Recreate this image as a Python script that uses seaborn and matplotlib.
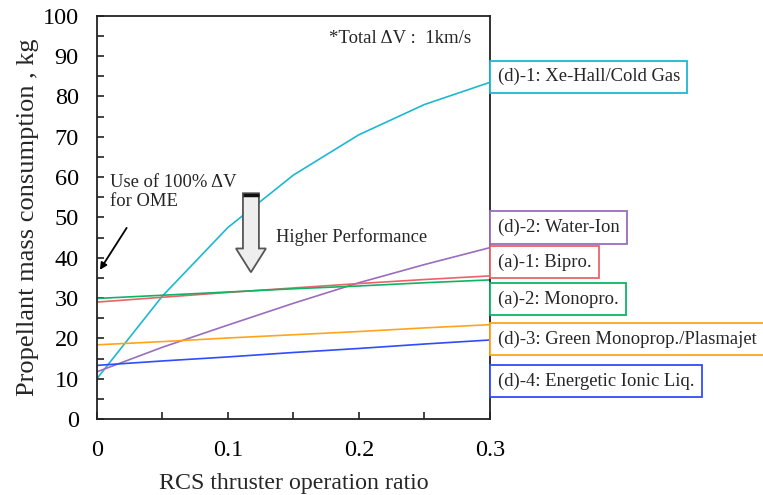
import numpy as np
import pandas as pd
import matplotlib
matplotlib.use("Agg")
import matplotlib.pyplot as plt
from matplotlib.patches import FancyArrow
from matplotlib.ticker import MultipleLocator
import seaborn as sns

# ---- data ----
ratio = [0.0, 0.05, 0.10, 0.15, 0.20, 0.25, 0.30]
xe_hall = [10.0, 30.5, 47.5, 60.5, 70.5, 78.0, 83.5]
water_ion = [11.7, 17.8, 23.3, 28.7, 33.8, 38.3, 42.5]
bipro = [29.0, 30.2, 31.4, 32.5, 33.6, 34.6, 35.5]
monopro = [29.9, 30.7, 31.5, 32.3, 33.0, 33.8, 34.5]
green_mono = [18.4, 19.2, 20.1, 20.9, 21.7, 22.6, 23.4]
ionic_liq = [13.3, 14.4, 15.4, 16.5, 17.5, 18.6, 19.6]

labels = ["(d)-1: Xe-Hall/Cold Gas", "(d)-2: Water-Ion", "(a)-1: Bipro.",
          "(a)-2: Monopro.", "(d)-3: Green Monoprop./Plasmajet",
          "(d)-4: Energetic Ionic Liq."]
series = [xe_hall, water_ion, bipro, monopro, green_mono, ionic_liq]
colors = ["#1cb8d2", "#9a6dbf", "#e8646a", "#10b364", "#ffa41c", "#2f4cff"]
label_y = [84.9, 47.5, 38.9, 29.8, 19.8, 9.4]

xticks = [0, 0.1, 0.2, 0.3]
xtick_labels = ["0", "0.1", "0.2", "0.3"]
yticks = list(range(0, 101, 10))

df = pd.DataFrame({
    "ratio": ratio * len(series),
    "mass": sum(series, []),
    "series": sum([[l] * len(ratio) for l in labels], []),
})

sns.set_theme(style="white")
plt.rcParams["font.family"] = ["Liberation Serif", "DejaVu Serif"]

fig = plt.figure(figsize=(7.63, 4.95), dpi=100)
ax = fig.add_axes([0.127, 0.1535, 0.515, 0.8145])

sns.lineplot(data=df, x="ratio", y="mass", hue="series", hue_order=labels,
             palette=colors, linewidth=1.2, legend=False, ax=ax)

ax.set_xlim(0, 0.3)
ax.set_ylim(0, 100)
ax.set_xticks(xticks)
ax.set_xticklabels(xtick_labels)
ax.set_yticks(yticks)
ax.xaxis.set_minor_locator(MultipleLocator(0.05))
ax.yaxis.set_minor_locator(MultipleLocator(5))
ax.tick_params(axis="both", which="both", direction="in", length=5, width=1.2,
               colors="#222222", labelsize=17.5, top=False, right=False,
               left=True, bottom=True)
ax.tick_params(axis="x", which="major", pad=15)
ax.tick_params(axis="y", which="major", pad=13)
for lab in ax.get_xticklabels() + ax.get_yticklabels():
    lab.set_color("black")
for sp in ax.spines.values():
    sp.set_color("#222222")
    sp.set_linewidth(1.3)

ax.set_xlabel("RCS thruster operation ratio", fontsize=17.2, labelpad=9)
ax.set_ylabel("Propellant mass consumption , kg", fontsize=19, labelpad=3)

# series label boxes
for lab, col, yy in zip(labels, colors, label_y):
    ax.annotate(lab, xy=(0.3, yy), xycoords="data", xytext=(5.6, 0),
                textcoords="offset points", ha="left", va="center",
                fontsize=13.4, annotation_clip=False,
                bbox=dict(boxstyle="square,pad=0.4", fc="white", ec=col, lw=1.3))

# annotations
ax.text(0.286, 94.3, "*Total ΔV :  1km/s", ha="right", va="center", fontsize=13.5)
ax.text(0.0099, 56.3, "Use of 100% ΔV\nfor OME", ha="left", va="center",
        fontsize=13.4, linespacing=1.15)
ax.annotate("", xy=(0.0023, 37.0), xytext=(0.0227, 47.4),
            arrowprops=dict(arrowstyle="-|>", color="black", lw=1.3,
                            mutation_scale=10, shrinkA=0, shrinkB=0))
ax.text(0.1366, 45.2, "Higher Performance", ha="left", va="center", fontsize=13.3)

arr_x = 0.1176
arr = FancyArrow(arr_x, 56.0, 0, -19.6, width=0.0122, head_width=0.0229,
                 head_length=5.9, length_includes_head=True,
                 fc="#eeeeee", ec="#555555", lw=1.3, zorder=5)
ax.add_patch(arr)
ax.plot([arr_x - 0.0061, arr_x + 0.0061], [55.6, 55.6], color="#111111",
        lw=2.5, solid_capstyle="butt", zorder=6)

fig.savefig("out.png", dpi=100)
